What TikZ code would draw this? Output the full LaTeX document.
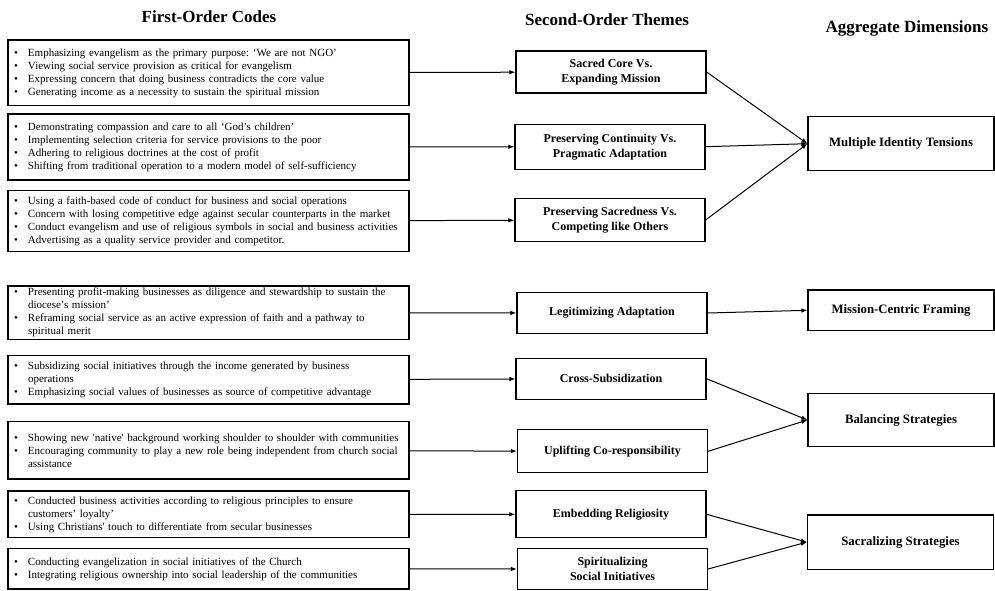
\documentclass[tikz,border=0pt]{standalone}
\usepackage{fontspec}
\setmainfont{Liberation Serif}
\usepackage{tikz}
\usetikzlibrary{arrows.meta}
\newcommand{\bul}{\makebox[14pt][l]{\textbullet}}
\newcommand{\hng}{\hspace*{14pt}}
\frenchspacing

\begin{document}
\begin{tikzpicture}[x=1pt,y=-1pt,
	code/.style={draw,line width=1.2pt,minimum width=401pt,text width=389pt,inner xsep=6pt,inner ysep=0pt,align=left,font=\fontsize{11}{13}\selectfont},
	theme/.style={draw,line width=1.2pt,minimum width=190pt,inner sep=0pt,align=center,font=\fontsize{12}{15}\selectfont\bfseries},
	dim/.style={draw,line width=1.2pt,minimum width=186pt,inner sep=0pt,align=center,font=\fontsize{12.8}{15}\selectfont\bfseries},
	head/.style={font=\fontsize{17}{20}\selectfont\bfseries}]
	\useasboundingbox (0,0) rectangle (995,590);
	%
	%  HEADINGS
	%
	\node[head] (h1) at (209,17) {First-Order Codes};
	\node[head] (h2) at (607,20) {Second-Order Themes};
	\node[head] (h3) at (907,28) {Aggregate Dimensions};
	%
	%  FIRST-ORDER CODES
	%
	\node[code,minimum height=65.7pt] (l1) at (208.5,72.9) {\bul Emphasizing evangelism as the primary purpose: ‘We are not NGO’\\
		\bul Viewing social service provision as critical for evangelism\\
		\bul Expressing concern that doing business contradicts the core value\\
		\bul Generating income as a necessity to sustain the spiritual mission};
	\node[code,minimum height=66pt] (l2) at (208.5,147) {\bul Demonstrating compassion and care to all ‘God’s children’\\
		\bul Implementing selection criteria for service provisions to the poor\\
		\bul Adhering to religious doctrines at the cost of profit\\
		\bul Shifting from traditional operation to a modern model of self-sufficiency};
	\node[code,minimum height=61pt] (l3) at (208.5,221.2) {\bul Using a faith-based code of conduct for business and social operations\\
		\bul Concern with losing competitive edge against secular counterparts in the market\\
		\bul Conduct evangelism and use of religious symbols in social and business activities\\
		\bul Advertising as a quality service provider and competitor.};
	\node[code,minimum height=53.3pt] (l4) at (208.5,312.7) {\bul Presenting profit-making businesses as diligence and stewardship to sustain the\\
		\hng diocese’s mission’\\
		\bul Reframing social service as an active expression of faith and a pathway to\\
		\hng spiritual merit};
	\node[code,minimum height=48.3pt] (l5) at (208.5,379.9) {\bul Subsidizing social initiatives through the income generated by business\\
		\hng operations\\
		\bul Emphasizing social values of businesses as source of competitive advantage};
	\node[code,minimum height=57.3pt] (l6) at (208.5,450.4) {\bul Showing new \textquotesingle native\textquotesingle\ background working shoulder to shoulder with communities\\
		\bul Encouraging community to play a new role being independent from church social\\
		\hng assistance};
	\node[code,minimum height=46.7pt] (l7) at (208.5,514.4) {\bul Conducted business activities according to religious principles to ensure\\
		\hng customers’ loyalty’\\
		\bul Using Christians\textquotesingle\ touch to differentiate from secular businesses};
	\node[code,minimum height=40.3pt] (l8) at (208.5,568.9) {\bul Conducting evangelization in social initiatives of the Church\\
		\bul Integrating religious ownership into social leadership of the communities};
	%
	%  SECOND-ORDER THEMES
	%
	\node[theme,minimum height=42pt] (t1) at (611,72) {Sacred Core Vs.\\Expanding Mission};
	\node[theme,minimum height=45pt] (t2) at (610,146.7) {Preserving Continuity Vs.\\Pragmatic Adaptation};
	\node[theme,minimum height=43pt] (t3) at (610,220) {Preserving Sacredness Vs.\\Competing like Others};
	\node[theme,minimum height=41pt] (t4) at (612,313) {Legitimizing Adaptation};
	\node[theme,minimum height=41pt] (t5) at (611,378.7) {Cross-Subsidization};
	\node[theme,minimum height=43pt] (t6) at (612.5,451.3) {Uplifting Co-responsibility};
	\node[theme,minimum height=47pt] (t7) at (611,514.3) {Embedding Religiosity};
	\node[theme,minimum height=41pt] (t8) at (612.5,569) {Spiritualizing\\Social Initiatives};
	%
	%  AGGREGATE DIMENSIONS
	%
	\node[dim,minimum height=54pt] (d1) at (901,143.7) {Multiple Identity Tensions};
	\node[dim,minimum height=40.7pt] (d2) at (901,310.3) {Mission-Centric Framing};
	\node[dim,minimum height=53.4pt] (d3) at (901,420) {Balancing Strategies};
	\node[dim,minimum height=54.3pt] (d4) at (900.5,542.1) {Sacralizing Strategies};
	%
	%  LINKS
	%
	\path[-{Latex[length=6pt,width=4.5pt]},line width=1pt]
	(l1) edge (t1)
	(l2) edge (t2)
	(l3) edge (t3)
	(l4) edge (t4)
	(l5) edge (t5)
	(l6) edge (t6)
	(l7) edge (t7)
	(l8) edge (t8)
	%
	(t1.east) edge (d1.west)
	(t2.east) edge (d1.west)
	(t3.east) edge (d1.west)
	(t4.east) edge (d2.west)
	(t5.east) edge (d3.west)
	(t6.east) edge (d3.west)
	(t7.east) edge (d4.west)
	(t8.east) edge (d4.west);
\end{tikzpicture}
\end{document}
